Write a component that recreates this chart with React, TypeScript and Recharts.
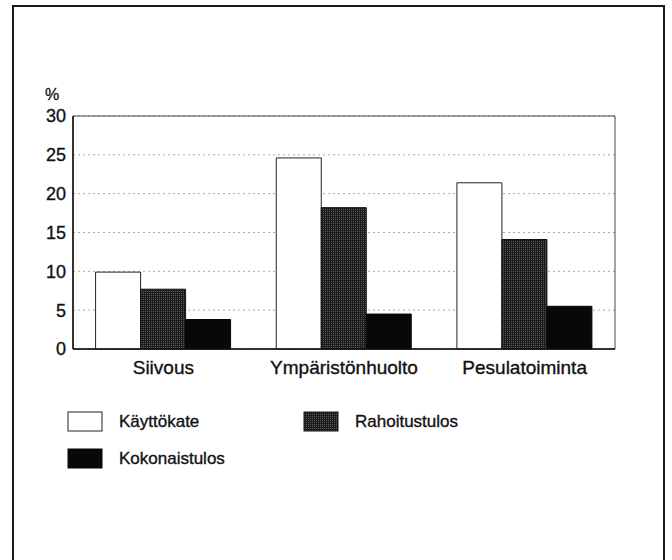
import React from 'react';
import { BarChart, Bar, XAxis, YAxis, CartesianGrid, Legend, ReferenceArea } from 'recharts';

const categories = ['Siivous', 'Ympäristönhuolto', 'Pesulatoiminta'];
const kayttokate = [9.9, 24.6, 21.4];
const rahoitustulos = [7.7, 18.2, 14.1];
const kokonaistulos = [3.8, 4.5, 5.5];
const yTicks = [0, 5, 10, 15, 20, 25, 30];
const seriesOrder = ['kayttokate', 'rahoitustulos', 'kokonaistulos'];

const seriesNames: Record<string, string> = {
  kayttokate: 'Käyttökate',
  rahoitustulos: 'Rahoitustulos',
  kokonaistulos: 'Kokonaistulos',
};

const styles: Record<string, { fill: string; stroke: string }> = {
  kayttokate: { fill: '#ffffff', stroke: '#222222' },
  rahoitustulos: { fill: 'url(#dither)', stroke: '#111111' },
  kokonaistulos: { fill: '#080808', stroke: '#080808' },
};

const data = categories.map((c, i) => ({
  name: c,
  kayttokate: kayttokate[i],
  rahoitustulos: rahoitustulos[i],
  kokonaistulos: kokonaistulos[i],
}));

const FONT = '"Liberation Sans", Arial, Helvetica, sans-serif';

const renderLegend = (props: any) => {
  const payload = [...(props.payload || [])].sort(
    (a: any, b: any) => seriesOrder.indexOf(String(a.dataKey)) - seriesOrder.indexOf(String(b.dataKey))
  );
  return (
    <div
      style={{
        display: 'flex',
        flexWrap: 'wrap',
        width: 472,
        paddingLeft: 67,
        fontFamily: FONT,
        fontSize: 17,
        color: '#111',
        WebkitTextStroke: '0.35px #111',
      }}
    >
      {payload.map((entry: any) => {
        const key = String(entry.dataKey);
        const st = styles[key];
        return (
          <div key={key} style={{ width: 236, height: 37, display: 'flex', alignItems: 'flex-start' }}>
            <svg width={36} height={21} style={{ display: 'block', flex: 'none' }}>
              <rect x={1} y={1} width={34} height={19} fill={st.fill} stroke={st.stroke} strokeWidth={1} />
            </svg>
            <span style={{ marginLeft: 16, lineHeight: '21px', whiteSpace: 'nowrap' }}>{seriesNames[key]}</span>
          </div>
        );
      })}
    </div>
  );
};

const PercentLabel = (props: any) => {
  const vb = props.viewBox || { x: 0, y: 0 };
  return (
    <text x={vb.x + 32} y={vb.y - 22} dominantBaseline="central" fontSize={16} fill="#111" stroke="#111" strokeWidth={0.3} fontFamily={FONT}>
      %
    </text>
  );
};

export default function App() {
  return (
    <div style={{ position: 'absolute', left: 0, top: 0, width: 672, height: 560, background: '#fff', overflow: 'hidden' }}>
      <div
        style={{
          position: 'absolute',
          left: 12,
          top: 5,
          width: 649,
          height: 600,
          border: '2px solid #1a1a1a',
          borderBottom: 'none',
          boxSizing: 'content-box',
        }}
      />
      <div style={{ position: 'absolute', left: 0, top: 0 }}>
        <BarChart
          width={672}
          height={560}
          data={data}
          margin={{ top: 116, right: 57, bottom: 181, left: 13 }}
          barCategoryGap="12.5%"
          barGap={0}
        >
          <defs>
            <pattern id="dither" patternUnits="userSpaceOnUse" width={2} height={2}>
              <rect x={0} y={0} width={2} height={2} fill="#1c1c1c" />
              <rect x={1} y={1} width={1} height={1} fill="#5a5a5a" />
            </pattern>
          </defs>
          <CartesianGrid horizontal vertical={false} stroke="#aaaaaa" strokeDasharray="2 3" />
          <ReferenceArea y1={0} y2={30} fill="none" stroke="#444" strokeWidth={1} ifOverflow="extendDomain" />
          <XAxis
            dataKey="name"
            tickLine={false}
            tickSize={0}
            tickMargin={12}
            height={30}
            axisLine={{ stroke: '#111', strokeWidth: 1.5 }}
            tick={{ fontSize: 19, fill: '#111', stroke: '#111', strokeWidth: 0.35, fontFamily: FONT }}
            interval={0}
          />
          <YAxis
            domain={[0, 30]}
            ticks={yTicks}
            width={60}
            tickLine={false}
            tickSize={0}
            tickMargin={7}
            axisLine={{ stroke: '#111', strokeWidth: 1.5 }}
            tick={{ fontSize: 18, fill: '#111', stroke: '#111', strokeWidth: 0.35, fontFamily: FONT }}
            label={<PercentLabel />}
          />
          <Legend
            content={renderLegend}
            layout="horizontal"
            verticalAlign="middle"
            align="center"
            wrapperStyle={{ left: 0, top: 411, width: 672 }}
          />
          <Bar dataKey="kayttokate" name={seriesNames.kayttokate} fill={styles.kayttokate.fill} stroke={styles.kayttokate.stroke} strokeWidth={1} isAnimationActive={false} />
          <Bar dataKey="rahoitustulos" name={seriesNames.rahoitustulos} fill={styles.rahoitustulos.fill} stroke={styles.rahoitustulos.stroke} strokeWidth={1} isAnimationActive={false} />
          <Bar dataKey="kokonaistulos" name={seriesNames.kokonaistulos} fill={styles.kokonaistulos.fill} stroke={styles.kokonaistulos.stroke} strokeWidth={1} isAnimationActive={false} />
        </BarChart>
      </div>
    </div>
  );
}
